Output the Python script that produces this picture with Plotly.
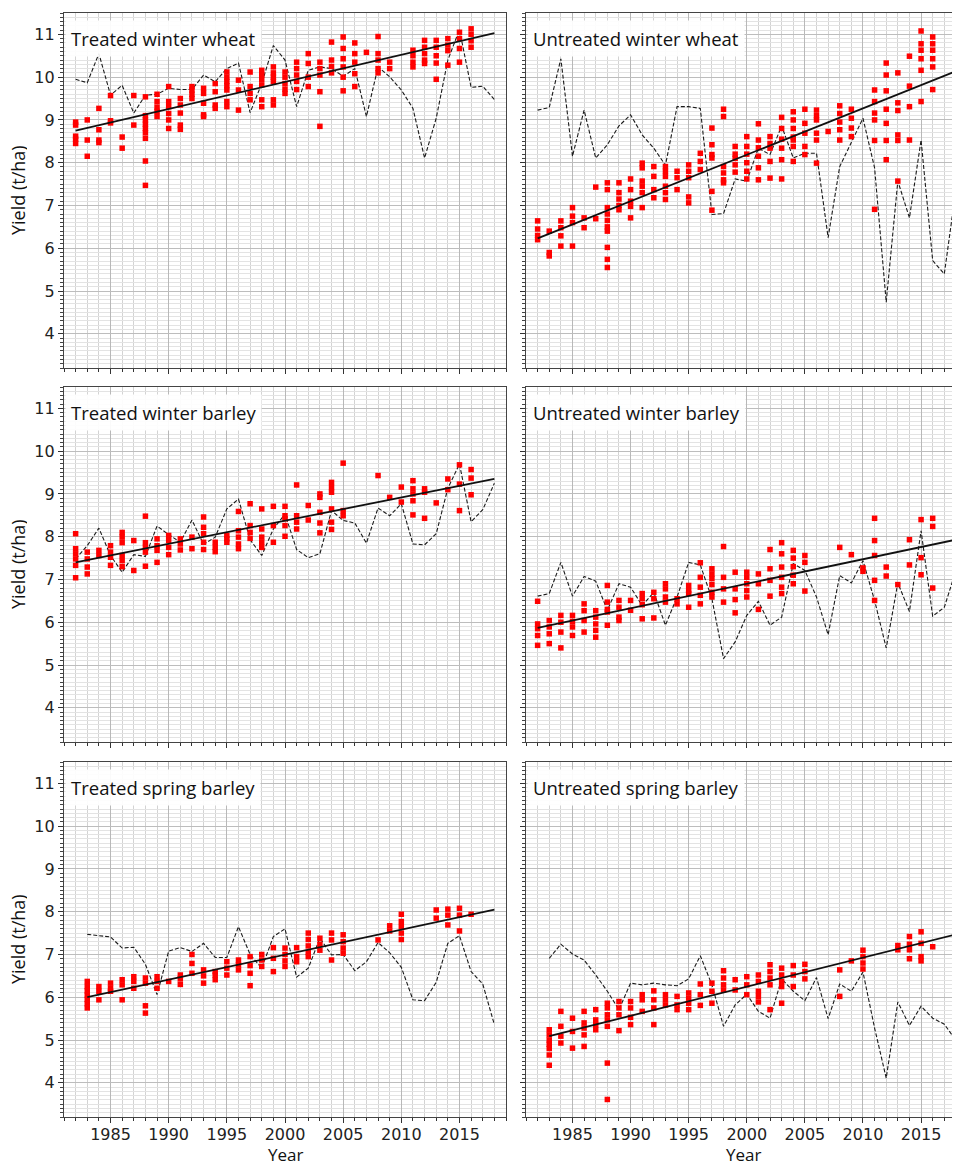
import plotly.graph_objects as go

# ---------------- DATA ----------------
avg_years_w = list(range(1982, 2019))
avg_years_s = list(range(1983, 2019))

# Treated winter wheat
tww_points = {
    1982: [8.95, 8.88, 8.62, 8.55, 8.45], 1983: [9.0, 8.53, 8.15], 1984: [9.27, 8.77, 8.53, 8.47],
    1985: [9.57, 8.98, 8.93], 1986: [8.6, 8.34], 1987: [9.57, 8.88],
    1988: [9.54, 9.1, 9.0, 8.9, 8.8, 8.7, 8.57, 8.04, 7.47], 1989: [9.6, 9.43, 9.3, 9.2, 9.08],
    1990: [9.78, 9.43, 9.31, 9.15, 9.0, 8.8], 1991: [9.5, 9.35, 9.16, 8.88, 8.78],
    1992: [9.78, 9.7, 9.6, 9.5], 1993: [9.74, 9.62, 9.39, 9.12, 9.08], 1994: [9.85, 9.66, 9.35, 9.27],
    1995: [10.12, 10.0, 9.9, 9.8, 9.7, 9.43, 9.31], 1996: [9.93, 9.7, 9.23], 1997: [10.12, 9.78, 9.62, 9.47],
    1998: [10.16, 10.05, 9.95, 9.82, 9.47, 9.31], 1999: [10.24, 10.1, 10.0, 9.9, 9.47, 9.35],
    2000: [10.12, 10.0, 9.85, 9.72, 9.62], 2001: [10.35, 10.2, 10.05, 9.9, 9.71],
    2002: [10.55, 10.32, 10.0, 9.78], 2003: [10.35, 10.2, 10.05, 9.66, 8.85], 2004: [10.82, 10.4, 10.25, 10.1],
    2005: [10.94, 10.67, 10.43, 10.24, 10.0, 9.68], 2006: [10.8, 10.55, 10.35, 10.08, 9.78], 2007: [10.58],
    2008: [10.95, 10.55, 10.4, 10.2, 10.1], 2009: [10.35, 10.2], 2011: [10.63, 10.5, 10.35, 10.24],
    2012: [10.86, 10.7, 10.55, 10.4, 10.32], 2013: [10.86, 10.7, 10.5, 10.33, 9.95],
    2014: [10.9, 10.75, 10.62, 10.28], 2015: [11.05, 10.9, 10.67, 10.35], 2016: [11.13, 11.0, 10.85, 10.7],
}
tww_avg = [9.95, 9.87, 10.55, 9.58, 9.81, 9.16, 9.58, 9.6, 9.74, 9.71, 9.71, 10.05, 9.89, 10.2, 10.33,
           9.17, 9.85, 10.74, 10.4, 9.31, 10.16, 10.24, 10.2, 10.02, 10.2, 9.08, 10.24, 10.01, 9.7, 9.27,
           8.11, 9.04, 10.4, 11.11, 9.76, 9.79, 9.48]
tww_trend_x = [1982, 2018]
tww_trend_y = [8.75, 11.03]

# Untreated winter wheat
uww_points = {
    1982: [6.64, 6.45, 6.3, 6.2], 1983: [6.4, 5.9, 5.82], 1984: [6.64, 6.48, 6.29, 6.05],
    1985: [6.95, 6.75, 6.6, 6.05], 1986: [6.71, 6.48], 1987: [7.43, 6.69],
    1988: [7.53, 7.37, 6.95, 6.8, 6.65, 6.5, 6.4, 6.02, 5.74, 5.55], 1989: [7.53, 7.3, 7.15, 7.0, 6.9],
    1990: [7.62, 7.37, 7.1, 6.98, 6.71], 1991: [7.99, 7.88, 7.57, 7.45, 7.3, 6.95],
    1992: [7.91, 7.68, 7.37, 7.18], 1993: [7.91, 7.8, 7.68, 7.45, 7.3, 7.14], 1994: [7.8, 7.65, 7.37],
    1995: [7.95, 7.8, 7.65, 7.2, 7.06], 1996: [8.22, 8.03, 7.84], 1997: [8.81, 8.42, 8.19, 8.11, 7.33, 6.89],
    1998: [9.25, 9.08, 7.91, 7.76, 7.6, 7.53], 1999: [8.38, 8.2, 8.1, 7.95, 7.78],
    2000: [8.61, 8.38, 8.2, 8.0, 7.8, 7.62], 2001: [8.91, 8.53, 8.35, 8.15, 7.88, 7.6],
    2002: [8.61, 8.45, 8.34, 8.03, 7.64], 2003: [9.06, 8.8, 8.55, 8.34, 8.07, 7.62],
    2004: [9.19, 9.0, 8.8, 8.6, 8.53, 8.38, 8.03], 2005: [9.25, 8.92, 8.69, 8.38, 8.19],
    2006: [9.23, 9.1, 9.0, 8.69, 8.53, 7.99], 2007: [8.73], 2008: [9.33, 9.15, 8.95, 8.77, 8.53],
    2009: [9.25, 9.04, 8.81, 8.61], 2011: [9.7, 9.43, 9.16, 9.0, 8.52, 6.91],
    2012: [10.33, 10.05, 9.68, 9.25, 8.92, 8.52, 8.07], 2013: [10.1, 9.4, 9.22, 8.65, 8.52, 7.57],
    2014: [10.49, 9.79, 9.31, 8.53], 2015: [11.08, 10.78, 10.63, 10.43, 10.16, 9.43],
    2016: [10.94, 10.78, 10.63, 10.43, 10.24, 9.71],
}
uww_avg = [9.23, 9.29, 10.43, 8.15, 9.23, 8.11, 8.42, 8.86, 9.12, 8.65, 8.34, 7.94, 9.31, 9.31, 9.27,
           6.79, 6.81, 7.62, 7.57, 8.34, 8.19, 8.86, 8.11, 8.22, 8.22, 6.25, 7.91, 8.46, 9.04, 7.88,
           4.74, 7.57, 6.71, 8.53, 5.71, 5.4, 7.37]
uww_trend_x = [1982, 2018]
uww_trend_y = [6.23, 10.14]

# Treated winter barley
twb_points = {
    1982: [8.07, 7.72, 7.6, 7.48, 7.33, 7.04], 1983: [7.64, 7.48, 7.29, 7.13], 1984: [7.68, 7.56],
    1985: [7.79, 7.64, 7.52, 7.33], 1986: [8.1, 7.99, 7.86, 7.56, 7.44, 7.3], 1987: [7.91, 7.21],
    1988: [8.48, 7.86, 7.75, 7.64, 7.31], 1989: [7.95, 7.79, 7.68, 7.4], 1990: [8.03, 7.91, 7.75, 7.58],
    1991: [7.95, 7.83, 7.69], 1992: [7.99, 7.72], 1993: [8.46, 8.22, 8.07, 7.87, 7.7],
    1994: [7.87, 7.75, 7.65], 1995: [8.03, 7.95, 7.87], 1996: [8.59, 8.14, 7.99, 7.83, 7.72],
    1997: [8.77, 8.26, 8.1, 7.96], 1998: [8.65, 8.18, 7.99, 7.87, 7.75], 1999: [8.71, 8.26, 7.87],
    2000: [8.71, 8.49, 8.42, 8.26, 8.01], 2001: [9.21, 8.49, 8.34, 8.18], 2002: [8.73, 8.39],
    2003: [9.0, 8.92, 8.57, 8.32, 8.09], 2004: [9.27, 9.15, 9.04, 8.65, 8.34, 8.17],
    2005: [9.72, 8.61, 8.49], 2008: [9.43], 2009: [8.92], 2010: [9.16, 8.81],
    2011: [9.31, 9.12, 9.0, 8.84, 8.51], 2012: [9.12, 9.04, 8.43], 2013: [8.79], 2014: [9.35, 9.1],
    2015: [9.68, 9.23, 8.61], 2016: [9.57, 9.37, 8.98],
}
twb_avg = [7.48, 7.79, 8.2, 7.56, 7.17, 7.58, 7.54, 8.25, 8.05, 7.87, 8.39, 7.82, 7.99, 8.65, 8.88,
           7.93, 7.56, 8.18, 8.53, 7.7, 7.51, 7.6, 8.61, 8.38, 8.32, 7.85, 8.67, 8.49, 8.77, 7.83,
           7.81, 8.07, 9.13, 9.7, 8.35, 8.63, 9.25]
twb_trend_x = [1982, 2018]
twb_trend_y = [7.4, 9.35]

# Untreated winter barley
uwb_points = {
    1982: [6.49, 5.96, 5.85, 5.69, 5.46], 1983: [6.04, 5.89, 5.73, 5.5], 1984: [6.16, 6.0, 5.77, 5.4],
    1985: [6.16, 6.02, 5.89, 5.69], 1986: [6.43, 6.27, 6.04, 5.77], 1987: [6.27, 6.12, 5.96, 5.81, 5.65],
    1988: [6.86, 6.47, 6.3, 6.24, 5.93], 1989: [6.51, 6.35, 6.12, 6.04], 1990: [6.51, 6.28],
    1991: [6.67, 6.55, 6.41, 6.08], 1992: [6.7, 6.55, 6.1], 1993: [6.9, 6.78, 6.59, 6.47],
    1994: [6.55, 6.43], 1995: [6.86, 6.74, 6.67, 6.35], 1996: [7.39, 7.05, 6.82, 6.63, 6.43],
    1997: [7.25, 7.13, 7.02, 6.88, 6.7, 6.59], 1998: [7.77, 7.05, 6.78, 6.47], 1999: [7.17, 6.78, 6.53, 6.22],
    2000: [7.17, 7.05, 6.9, 6.74, 6.59], 2001: [7.13, 6.9, 6.3], 2002: [7.7, 7.25, 6.98, 6.61],
    2003: [7.86, 7.6, 7.29, 7.05, 6.82, 6.67], 2004: [7.68, 7.5, 7.3, 7.1, 6.9], 2005: [7.56, 7.4, 6.73],
    2008: [7.75], 2009: [7.58], 2010: [7.27, 7.19], 2011: [8.43, 7.91, 7.56, 6.98, 6.51],
    2012: [7.29, 7.08], 2013: [6.88], 2014: [7.93, 7.34], 2015: [8.4, 7.51, 7.11], 2016: [8.43, 8.24, 6.8],
}
uwb_avg = [6.61, 6.67, 7.4, 6.61, 7.07, 6.96, 6.28, 6.9, 6.82, 6.39, 6.7, 5.93, 6.59, 7.4, 7.34,
           6.55, 5.15, 5.54, 6.16, 6.49, 5.93, 6.12, 7.37, 7.21, 6.59, 5.71, 7.09, 6.92, 7.44, 6.51,
           5.4, 6.92, 6.25, 8.14, 6.14, 6.35, 7.21]
uwb_trend_x = [1982, 2018]
uwb_trend_y = [5.87, 7.93]

# Treated spring barley
tsb_points = {
    1983: [6.37, 6.25, 6.15, 6.05, 5.95, 5.85, 5.75], 1984: [6.25, 6.14, 5.94], 1985: [6.33, 6.21, 6.14],
    1986: [6.41, 6.29, 5.94], 1987: [6.48, 6.37, 6.21], 1988: [6.45, 6.33, 5.8, 5.63],
    1989: [6.48, 6.37, 6.21], 1990: [6.37], 1991: [6.52, 6.43, 6.3], 1992: [7.0, 6.79, 6.56],
    1993: [6.64, 6.5, 6.33], 1994: [6.6, 6.52, 6.41], 1995: [6.83, 6.68, 6.52], 1996: [6.87, 6.76, 6.64],
    1997: [6.95, 6.74, 6.56, 6.27], 1998: [7.0, 6.87, 6.72], 1999: [7.16, 6.91, 6.6],
    2000: [7.15, 7.0, 6.85, 6.72], 2001: [7.16, 6.95, 6.83], 2002: [7.5, 7.35, 7.2, 7.05, 6.95],
    2003: [7.38, 7.24, 7.1], 2004: [7.5, 7.34, 6.87], 2005: [7.46, 7.3, 7.15, 7.03], 2008: [7.34],
    2009: [7.67, 7.55], 2010: [7.94, 7.77, 7.65, 7.5, 7.35], 2013: [8.04, 7.85], 2014: [8.06, 7.92, 7.69],
    2015: [8.08, 7.92, 7.55], 2016: [7.94],
}
tsb_avg = [7.47, 7.44, 7.41, 7.15, 7.17, 6.77, 6.06, 7.08, 7.16, 7.07, 7.26, 6.93, 6.93, 7.65, 7.0,
           6.68, 7.42, 7.6, 6.47, 6.68, 7.38, 6.99, 7.0, 6.62, 6.83, 7.28, 7.04, 6.7, 5.94, 5.92,
           6.35, 7.26, 7.44, 6.6, 6.31, 5.36]
tsb_trend_x = [1983, 2018]
tsb_trend_y = [6.0, 8.05]

# Untreated spring barley
usb_points = {
    1983: [5.24, 5.12, 5.0, 4.9, 4.8, 4.65, 4.41], 1984: [5.67, 5.32, 5.09, 4.93], 1985: [5.51, 5.2, 4.81],
    1986: [5.67, 5.4, 5.28, 5.12, 4.85], 1987: [5.71, 5.47, 5.36, 5.24],
    1988: [5.86, 5.75, 5.59, 5.47, 5.32, 4.46, 3.61], 1989: [5.9, 5.75, 5.59, 5.22],
    1990: [5.9, 5.75, 5.53, 5.36], 1991: [6.06, 5.94, 5.67], 1992: [6.15, 5.94, 5.75, 5.36],
    1993: [6.06, 5.94, 5.82], 1994: [6.02, 5.82, 5.71], 1995: [6.1, 5.98, 5.86, 5.71],
    1996: [6.31, 6.06, 5.81], 1997: [6.33, 6.14, 5.86], 1998: [6.62, 6.45, 6.29, 6.17], 1999: [6.41, 6.17],
    2000: [6.48, 6.29, 6.06], 2001: [6.52, 6.37, 6.14, 6.02, 5.89], 2002: [6.76, 6.6, 6.45, 6.29, 5.71],
    2003: [6.68, 6.52, 6.37, 6.25, 5.86], 2004: [6.74, 6.52, 6.25], 2005: [6.77, 6.6, 6.43],
    2008: [6.64, 6.02], 2009: [6.85], 2010: [7.1, 6.95, 6.8, 6.66], 2013: [7.21, 7.11],
    2014: [7.42, 7.24, 7.11, 6.9], 2015: [7.53, 7.26, 6.95, 6.85], 2016: [7.18],
}
usb_avg = [6.91, 7.24, 7.01, 6.87, 6.52, 6.14, 5.71, 6.33, 6.29, 6.33, 6.29, 6.27, 6.43, 6.97, 6.29,
           5.32, 5.82, 6.07, 5.67, 5.51, 6.43, 6.14, 5.92, 6.46, 5.5, 6.31, 6.14, 6.59, 5.28, 4.11,
           5.89, 5.34, 5.79, 5.51, 5.37, 4.99]
usb_trend_x = [1983, 2018]
usb_trend_y = [5.09, 7.47]

panel_titles = ["Treated winter wheat", "Untreated winter wheat",
                "Treated winter barley", "Untreated winter barley",
                "Treated spring barley", "Untreated spring barley"]

# ---------------- LAYOUT GEOMETRY ----------------
# The page body adds an 8 px margin, so figure coordinates = screen coordinates - 8.
OFF = 8
W, H = 960, 1163
col_px = [(64 - OFF, 506 - OFF), (526 - OFF, 960 - OFF)]
row_px = [(13 - OFF, 368 - OFF), (387 - OFF, 742 - OFF), (762 - OFF, 1117 - OFF)]
x_ranges = [[1981, 2019], [1981, 2018.35]]
y_range = [3.2, 11.5]

panels = [
    (tww_points, avg_years_w, tww_avg, tww_trend_x, tww_trend_y),
    (uww_points, avg_years_w, uww_avg, uww_trend_x, uww_trend_y),
    (twb_points, avg_years_w, twb_avg, twb_trend_x, twb_trend_y),
    (uwb_points, avg_years_w, uwb_avg, uwb_trend_x, uwb_trend_y),
    (tsb_points, avg_years_s, tsb_avg, tsb_trend_x, tsb_trend_y),
    (usb_points, avg_years_s, usb_avg, usb_trend_x, usb_trend_y),
]

fig = go.Figure()
layout = {}
annotations = []
tick_font = dict(family="DejaVu Sans", size=16, color="#222")
text_font = dict(family="Open Sans", size=18.5, color="#111")

for i, (pts, ay, av, tx, ty) in enumerate(panels):
    n = i + 1
    r, c = divmod(i, 2)
    xs, ys = [], []
    for yr, vals in pts.items():
        for v in vals:
            xs.append(yr)
            ys.append(v)
    xa = "x" if n == 1 else f"x{n}"
    ya = "y" if n == 1 else f"y{n}"
    fig.add_trace(go.Scatter(x=ay, y=av, mode="lines", xaxis=xa, yaxis=ya,
                             line=dict(color="#1a1a1a", width=1.1, dash="4px,2px"), showlegend=False))
    fig.add_trace(go.Scatter(x=xs, y=ys, mode="markers", xaxis=xa, yaxis=ya,
                             marker=dict(symbol="square", size=5.5, color="#ff0000", line=dict(width=0)),
                             showlegend=False))
    fig.add_trace(go.Scatter(x=tx, y=ty, mode="lines", xaxis=xa, yaxis=ya,
                             line=dict(color="#111", width=1.8), showlegend=False))

    x0, x1 = col_px[c]
    t0, t1 = row_px[r]
    layout["xaxis" if n == 1 else f"xaxis{n}"] = dict(
        domain=[x0 / W, x1 / W], anchor=ya, range=x_ranges[c],
        tick0=1985, dtick=5, ticks="outside", ticklen=5, tickwidth=1, tickcolor="#333",
        showticklabels=(r == 2), tickfont=tick_font, ticklabelstandoff=-2,
        showgrid=True, gridcolor="#b8b8b8", gridwidth=1,
        minor=dict(dtick=1, tick0=1985, ticks="outside", ticklen=3, tickcolor="#333",
                   showgrid=True, gridcolor="#d3d3d3", gridwidth=1),
        showline=True, linecolor="#444", linewidth=1.3, mirror=True, zeroline=False,
    )
    layout["yaxis" if n == 1 else f"yaxis{n}"] = dict(
        domain=[1 - t1 / H, 1 - t0 / H], anchor=xa, range=y_range,
        tick0=0, dtick=1, ticks="outside", ticklen=5, tickwidth=1, tickcolor="#333",
        showticklabels=(c == 0), tickfont=tick_font,
        showgrid=True, gridcolor="#bdbdbd", gridwidth=1,
        minor=dict(dtick=0.1, tick0=0, ticks="outside", ticklen=2.5, tickcolor="#444",
                   showgrid=True, gridcolor="#e3e3e3", gridwidth=1),
        showline=True, linecolor="#444", linewidth=1.3, mirror=True, zeroline=False,
    )
    annotations.append(dict(
        text=panel_titles[i], xref="paper", yref="paper",
        x=(x0 + 1) / W, y=1 - (t0 + 25) / H, xanchor="left", yanchor="middle",
        showarrow=False, font=text_font, bgcolor="rgba(255,255,255,0.92)", borderpad=5,
    ))
    if c == 0:
        annotations.append(dict(
            text="Yield (t/ha)", xref="paper", yref="paper", x=(17.5 - OFF) / W,
            y=1 - (t0 + t1) / 2 / H, height=19,
            xanchor="center", yanchor="middle", textangle=-90, showarrow=False, borderpad=0,
            font=dict(family="Open Sans", size=18, color="#111"),
        ))
    if r == 2:
        annotations.append(dict(
            text="Year", xref="paper", yref="paper", x=(x0 + x1) / 2 / W, y=1 - (1154 - OFF) / H,
            xanchor="center", yanchor="middle", showarrow=False, borderpad=0,
            font=dict(family="Open Sans", size=17, color="#111"),
        ))

fig.update_layout(
    width=W, height=H, margin=dict(l=0, r=0, t=0, b=0),
    paper_bgcolor="white", plot_bgcolor="white",
    annotations=annotations, **layout,
)

fig.write_html("out.html")
